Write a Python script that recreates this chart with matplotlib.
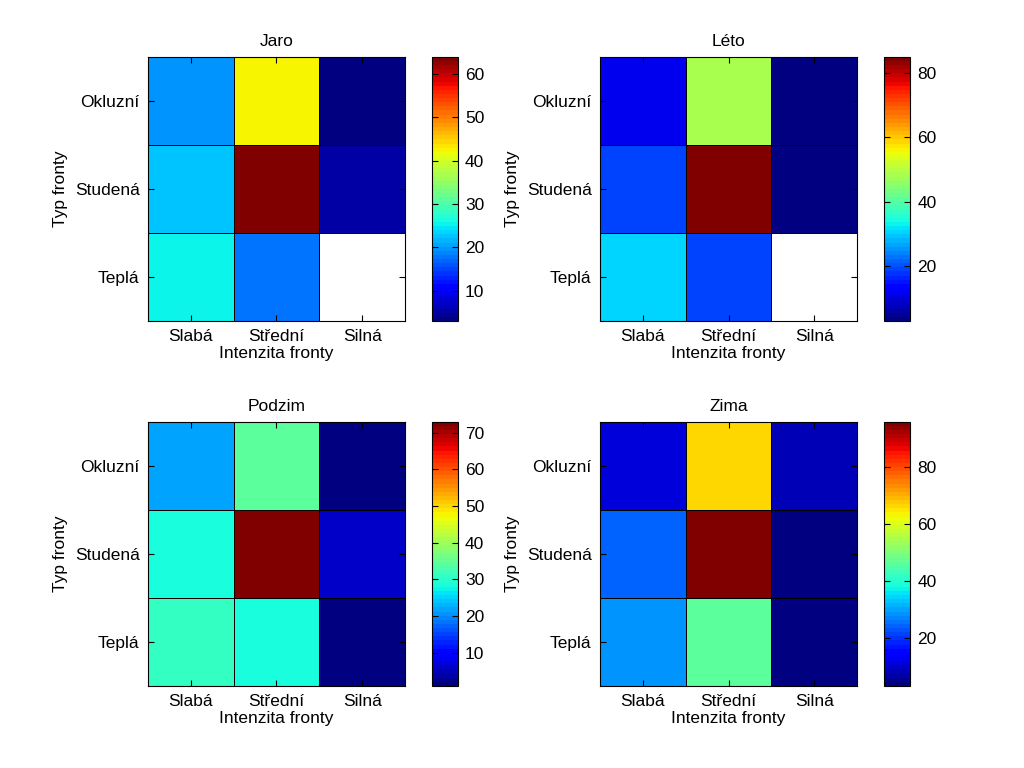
import numpy as np
import matplotlib.pyplot as plt

plt.rcParams['font.family'] = ['Liberation Sans', 'DejaVu Sans']
plt.rcParams['font.size'] = 12.5

intenzita = ['Slabá', 'Střední', 'Silná']
typ = ['Okluzní', 'Studená', 'Teplá']
seasons = ['Jaro', 'Léto', 'Podzim', 'Zima']

# rows: Okluzní, Studená, Teplá ; cols: Slabá, Střední, Silná
jaro = [[20, 43, 3], [23, 64, 5], [25.5, 17.5, np.nan]]
leto = [[11, 49, 3], [18.5, 85, 3.5], [31, 19, np.nan]]
podzim = [[22, 34, 1], [28.5, 73, 6.5], [31, 28, 1.5]]
zima = [[11, 66, 8.5], [24, 96, 3], [28.5, 46, 3.5]]
data = [jaro, leto, podzim, zima]

cb_ticks = [[10, 20, 30, 40, 50, 60], [20, 40, 60, 80],
            [10, 20, 30, 40, 50, 60, 70], [20, 40, 60, 80]]

fig = plt.figure(figsize=(10.24, 7.68), dpi=100)
cmap = plt.get_cmap('jet', 64)

lefts = [0.1445, 0.586]
bottoms = [0.582, 0.107]
for i, name in enumerate(seasons):
    r, c = divmod(i, 2)
    ax = fig.add_axes([lefts[c], bottoms[r], 0.251, 0.344])
    cax = fig.add_axes([lefts[c] + 0.2775, bottoms[r], 0.0254, 0.344])
    z = np.ma.masked_invalid(np.array(data[i], dtype=float))
    mesh = ax.pcolormesh(np.arange(4), np.arange(4), z, cmap=cmap,
                         edgecolors='black', linewidth=0.6)
    ax.set_xlim(0, 3)
    ax.set_ylim(3, 0)
    ax.set_xticks(np.arange(3) + 0.5)
    ax.set_xticklabels(intenzita)
    ax.set_yticks(np.arange(3) + 0.5)
    ax.set_yticklabels(typ)
    ax.tick_params(direction='in', length=4, top=True, right=True, pad=6)
    ax.set_title(name, fontsize=12.5, pad=8)
    ax.set_xlabel('Intenzita fronty', labelpad=1)
    ax.set_ylabel('Typ fronty', labelpad=5)
    cb = fig.colorbar(mesh, cax=cax)
    cb.set_ticks(cb_ticks[i])
    cb.outline.set_linewidth(0.8)
    cax.tick_params(direction='in', length=4, left=True, right=True, pad=5)

fig.savefig('out.png', dpi=100)
